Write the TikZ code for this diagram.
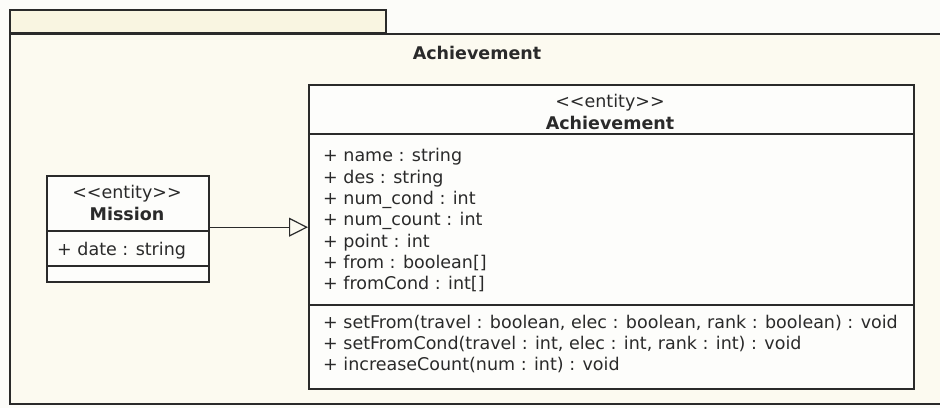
\documentclass[tikz,border=0pt]{standalone}
\usepackage{fontspec}
\setmainfont[Ligatures=ResetAll]{DejaVu Sans}
\usetikzlibrary{arrows.meta}
\definecolor{ink}{HTML}{2A2A2A}
\definecolor{paper}{HTML}{FCFCF9}
\definecolor{pkgfill}{HTML}{FCFAF0}
\definecolor{tabfill}{HTML}{F9F5E1}
\definecolor{boxfill}{HTML}{FDFDFB}
\tikzset{
  pkgline/.style={draw=ink, line width=2.8pt},
  classbox/.style={draw=ink, line width=2.4pt, fill=boxfill, inner sep=0pt},
  sepline/.style={draw=ink, line width=1.3pt},
  txt/.style={inner sep=0pt, text=ink, font=\fontsize{17.5}{21}\selectfont},
  stereo/.style={txt, anchor=base},
  cname/.style={txt, anchor=base, font=\fontsize{17.5}{21}\selectfont\bfseries},
  member/.style={txt, anchor=base west},
  generalization/.style={draw=ink, line width=1pt, -{Triangle[open, length=19pt, width=19pt, line width=1.2pt]}}
}
\newcommand{\stereotype}[1]{<\kern0pt<#1>\kern0pt>}
\begin{document}
\begin{tikzpicture}[x=1pt, y=-1pt]
  \useasboundingbox (0,0) rectangle (940,408);
  \clip (0,0) rectangle (940,408);
  \fill[paper] (0,0) rectangle (940,408);

  % package frame with its tab
  \draw[pkgline, fill=tabfill] (10,10) rectangle (386,33);
  \draw[pkgline, fill=pkgfill] (10,34) rectangle (950,404);
  \node[cname] (pkgname) at (477,59) {Achievement};

  % class Achievement
  \node[classbox, minimum width=605pt, minimum height=304pt, anchor=north west] (ach) at (308,84) {};
  \draw[sepline] (ach.west |- 0,134) -- (ach.east |- 0,134);
  \draw[sepline] (ach.west |- 0,305) -- (ach.east |- 0,305);
  \node[stereo] (achst) at (610,107) {\stereotype{entity}};
  \node[cname] (achname) at (610,129) {Achievement};
  \foreach \t [count=\i] in {%
      {+ name : string},
      {+ des : string},
      {+ num\_cond : int},
      {+ num\_count : int},
      {+ point : int},
      {+ from : boolean[]},
      {+ fromCond : int[]}}
    \node[member] (attr\i) at (323,{140.5+21.3*\i}) {\t};
  \foreach \t [count=\i] in {%
      {+ setFrom(travel : boolean, elec : boolean, rank : boolean) : void},
      {+ setFromCond(travel : int, elec : int, rank : int) : void},
      {+ increaseCount(num : int) : void}}
    \node[member] (op\i) at (323,{307+21.3*\i}) {\t};

  % class Mission
  \node[classbox, minimum width=162pt, minimum height=106pt, anchor=north west] (mission) at (46,175) {};
  \draw[sepline] (mission.west |- 0,231) -- (mission.east |- 0,231);
  \draw[sepline] (mission.west |- 0,266) -- (mission.east |- 0,266);
  \node[stereo] (misst) at (127,198) {\stereotype{entity}};
  \node[cname] (misname) at (127,220) {Mission};
  \node[member] (misattr) at (57,255) {+ date : string};

  % generalization Mission -> Achievement
  \draw[generalization] ([yshift=2pt]mission.east) -- ([yshift=2pt]mission.east -| ach.west);
\end{tikzpicture}
\end{document}
